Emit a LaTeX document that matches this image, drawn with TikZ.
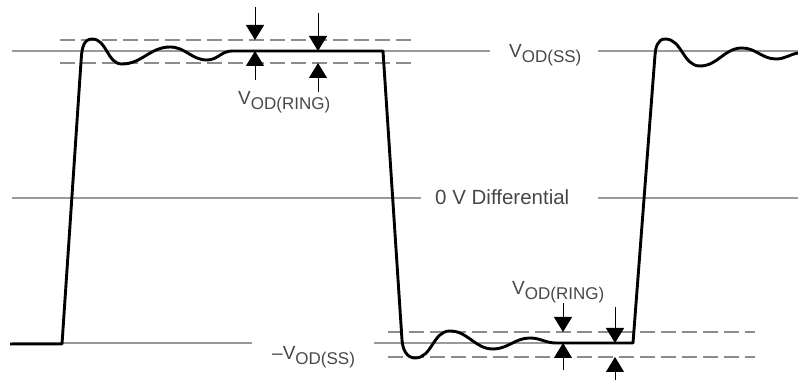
\documentclass[tikz,border=0pt]{standalone}
\usepackage{fontspec}
\setmainfont{Liberation Sans}
\usetikzlibrary{arrows.meta}
\definecolor{lvl}{HTML}{9A9A9A}
\definecolor{dsh}{HTML}{8C8C8C}
\definecolor{txt}{HTML}{474747}
\newcommand{\Vlab}[1]{V\raisebox{-5pt}{\fontsize{17}{19}\selectfont #1}}
\tikzset{
  level/.style={draw=lvl, line width=1.2pt},
  ringdash/.style={draw=dsh, line width=1.5pt, dash pattern=on 15pt off 6pt},
  wave/.style={draw=black, line width=2.9pt, line join=round},
  marker/.style={draw=black, line width=1pt, -{Triangle[width=18pt,length=15pt]}},
  lab/.style={anchor=base west, inner sep=0pt, text=txt, font=\fontsize{19}{22}\selectfont},
  midlab/.style={anchor=base west, inner sep=0pt, text=txt, font=\fontsize{20.5}{24}\selectfont}
}
\begin{document}
\begin{tikzpicture}[x=1pt,y=1pt]
\useasboundingbox (0,0) rectangle (798,380);
% labels
\node[lab] (lss) at (509,322) {\Vlab{OD(SS)}};
\node[midlab] (lzero) at (435,175) {0 V Differential};
\node[lab] (lnss) at (272,20) {\textendash\Vlab{OD(SS)}};
\node[lab] (lrt) at (238,275) {\Vlab{OD(RING)}};
\node[lab] (lrb) at (512,85) {\Vlab{OD(RING)}};
% level line coordinates
\coordinate (t0) at (12,329); \coordinate (t1) at (490,329);
\coordinate (t2) at (598,329); \coordinate (t3) at (798,329);
\coordinate (m0) at (12,182); \coordinate (m1) at (421,182);
\coordinate (m2) at (598,182); \coordinate (m3) at (798,182);
\coordinate (b0) at (12,37); \coordinate (b1) at (252,37);
\coordinate (b2) at (374,37); \coordinate (b3) at (633,37);
\draw[level] (t0) -- (t1); \draw[level] (t2) -- (t3);
\draw[level] (m0) -- (m1); \draw[level] (m2) -- (m3);
\draw[level] (b0) -- (b1); \draw[level] (b2) -- (b3);
% ringing bands
\coordinate (du0) at (60,340); \coordinate (du1) at (412,340);
\coordinate (dl0) at (60,317); \coordinate (dl1) at (412,317);
\coordinate (eu0) at (388,48); \coordinate (eu1) at (755,48);
\coordinate (el0) at (388,23); \coordinate (el1) at (755,23);
\draw[ringdash] (du0) -- (du1); \draw[ringdash] (dl0) -- (dl1);
\draw[ringdash] (eu0) -- (eu1); \draw[ringdash] (el0) -- (el1);
% waveform
\draw[wave] (10,36) -- (62,36) -- (81,318) to[out=86,in=180] (92,341)
  to[out=0,in=180] (122,316) to[out=0,in=180] (170,333)
  to[out=0,in=180] (207,320) to[out=0,in=180] (232,329) -- (383,329)
  -- (402,40) to[out=-86,in=180] (415,22) to[out=0,in=180] (450,49)
  to[out=0,in=180] (493,31) to[out=0,in=180] (530,42)
  to[out=0,in=180] (556,37) -- (633,37) -- (655,325)
  to[out=86,in=180] (665,341) to[out=0,in=180] (700,314)
  to[out=0,in=180] (742,332) to[out=0,in=180] (776,321)
  to[out=0,in=190] (798,327);
% measurement arrows
\coordinate (a1s) at (255,373); \coordinate (a1e) at (255,340);
\coordinate (a2s) at (255,300); \coordinate (a2e) at (255,329);
\coordinate (a3s) at (318,367); \coordinate (a3e) at (318,329);
\coordinate (a4s) at (318,288); \coordinate (a4e) at (318,317);
\coordinate (a5s) at (563,77); \coordinate (a5e) at (563,48);
\coordinate (a6s) at (563,10); \coordinate (a6e) at (563,37);
\coordinate (a7s) at (615,73); \coordinate (a7e) at (615,37);
\coordinate (a8s) at (615,0); \coordinate (a8e) at (615,23);
\draw[marker] (a1s) -- (a1e); \draw[marker] (a2s) -- (a2e);
\draw[marker] (a3s) -- (a3e); \draw[marker] (a4s) -- (a4e);
\draw[marker] (a5s) -- (a5e); \draw[marker] (a6s) -- (a6e);
\draw[marker] (a7s) -- (a7e); \draw[marker] (a8s) -- (a8e);
\end{tikzpicture}
\end{document}
